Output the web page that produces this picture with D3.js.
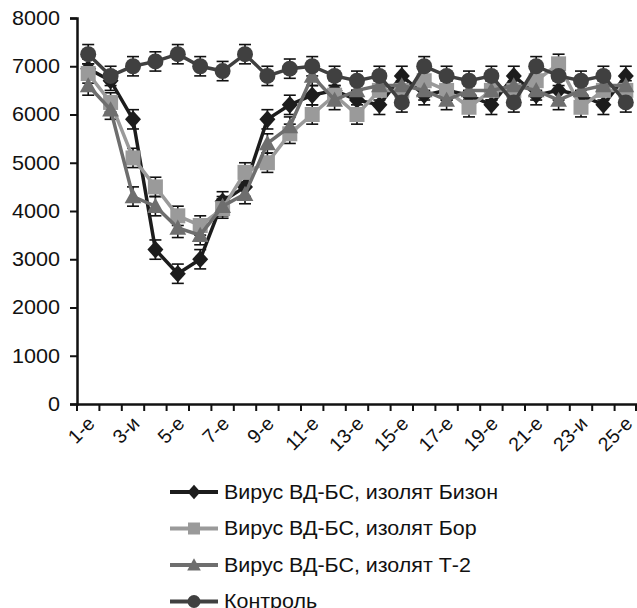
<!DOCTYPE html>
<html>
  <head>
    <meta charset="utf-8">
    <title>chart</title>
    <script src="https://d3js.org/d3.v7.min.js"></script>
    <style>
      body { margin: 0; background: #fff; }
      text { font-family: "Liberation Sans", Arial, sans-serif; fill: #111; }
    </style>
  </head>
  <body>
    <div id="wrapper"></div>
    <script>
      // categories (days) and the labels shown under the axis
      var days = d3.range(1, 26);
      var dayLabels = {1:"1-е", 3:"3-и", 5:"5-е", 7:"7-е", 9:"9-е", 11:"11-е", 13:"13-е",
                       15:"15-е", 17:"17-е", 19:"19-е", 21:"21-е", 23:"23-и", 25:"25-е"};
      var yTicks = [0, 1000, 2000, 3000, 4000, 5000, 6000, 7000, 8000];

      // values
      var bizon   = [6950, 6700, 5900, 3200, 2700, 3000, 4200, 4500, 5900, 6200, 6400, 6500, 6300,
                     6200, 6800, 6400, 6500, 6400, 6200, 6800, 6400, 6500, 6400, 6200, 6800];
      var bor     = [6850, 6250, 5100, 4500, 3900, 3700, 4050, 4800, 5000, 5600, 6000, 6400, 6000,
                     6500, 6500, 6700, 6500, 6150, 6500, 6500, 6700, 7050, 6150, 6500, 6500];
      var t2      = [6600, 6100, 4300, 4100, 3650, 3500, 4100, 4350, 5400, 5750, 6800, 6300, 6500,
                     6600, 6600, 6500, 6300, 6500, 6500, 6600, 6500, 6300, 6500, 6600, 6600];
      var control = [7250, 6800, 7000, 7100, 7250, 7000, 6900, 7250, 6800, 6950, 7000, 6800, 6700,
                     6800, 6250, 7000, 6800, 6700, 6800, 6250, 7000, 6800, 6700, 6800, 6250];
      var errValue = 200;

      var series = [
        {name: "Вирус ВД-БС, изолят Бизон", values: bizon,   color: "#1c1c1c", marker: "diamond"},
        {name: "Вирус ВД-БС, изолят Бор",   values: bor,     color: "#9a9a9a", marker: "square"},
        {name: "Вирус ВД-БС, изолят Т-2",   values: t2,      color: "#6e6e6e", marker: "triangle"},
        {name: "Контроль",                  values: control, color: "#404040", marker: "circle"}
      ];

      var width = 637, height = 608;
      var svg = d3.select("#wrapper").append("svg")
                  .attr("width", width)
                  .attr("height", height);

      var xScale = d3.scaleBand().domain(days).range([77, 637]).padding(0);
      var yScale = d3.scaleLinear().domain([0, 8000]).range([404, 18]);
      function cx(d) { return xScale(d) + xScale.bandwidth() / 2; }

      function markerPath(type, s) {
        if (type == "diamond") return "M0," + (-s*1.1) + "L" + s + ",0L0," + (s*1.1) + "L" + (-s) + ",0Z";
        if (type == "square") return "M" + (-s) + "," + (-s) + "H" + s + "V" + s + "H" + (-s) + "Z";
        if (type == "triangle") return "M0," + (-s*1.05) + "L" + (s*1.05) + "," + (s*0.85) + "L" + (-s*1.05) + "," + (s*0.85) + "Z";
        return d3.arc()({innerRadius: 0, outerRadius: s, startAngle: 0, endAngle: 2*Math.PI});
      }

      // y axis
      var yAxis = d3.axisLeft(yScale).tickValues(yTicks).tickSize(7).tickPadding(9)
                    .tickFormat(d3.format("d"));
      var gy = svg.append("g").attr("transform", "translate(77,0)").call(yAxis);
      gy.select(".domain").attr("stroke", "#111").attr("stroke-width", 2.5);
      gy.selectAll(".tick line").attr("stroke", "#111").attr("stroke-width", 2);
      gy.selectAll(".tick text").style("font-size", "20px").attr("fill", "#111")
        .attr("transform", "translate(-1,0) scale(1.08,1)")
        .attr("transform-origin", "-16 0");

      // x axis: ticks between categories, labels on odd days
      var xAxis = d3.axisBottom(xScale).tickSize(0).tickPadding(0)
                    .tickFormat(function(d) { return dayLabels[d] || ""; });
      var gx = svg.append("g").attr("transform", "translate(0,404)").call(xAxis);
      gx.select(".domain").attr("stroke", "#111").attr("stroke-width", 2.5);
      gx.selectAll(".tick text")
        .style("font-size", "19.5px")
        .attr("fill", "#111")
        .attr("text-anchor", "end")
        .attr("transform", "translate(3,16) rotate(-45)")
        .attr("dy", "0.35em");

      var bounds = days.map(function(d) { return xScale(d); }).concat([xScale.range()[1] - 1]);
      svg.append("g").selectAll("line").data(bounds).enter().append("line")
         .attr("x1", function(d) { return d; }).attr("x2", function(d) { return d; })
         .attr("y1", 404).attr("y2", 411)
         .attr("stroke", "#111").attr("stroke-width", 2);

      var line = d3.line()
                   .x(function(d, i) { return cx(days[i]); })
                   .y(function(d) { return yScale(d); });

      // error bars
      series.forEach(function(s) {
        var g = svg.append("g").attr("stroke", "#111").attr("stroke-width", 1.6);
        s.values.forEach(function(v, i) {
          var x = cx(days[i]);
          var y1 = yScale(v + errValue), y2 = yScale(v - errValue);
          g.append("line").attr("x1", x).attr("x2", x).attr("y1", y1).attr("y2", y2);
          g.append("line").attr("x1", x - 6).attr("x2", x + 6).attr("y1", y1).attr("y2", y1);
          g.append("line").attr("x1", x - 6).attr("x2", x + 6).attr("y1", y2).attr("y2", y2);
        });
      });

      // lines and markers
      series.forEach(function(s) {
        svg.append("path").datum(s.values)
           .attr("d", line)
           .attr("fill", "none")
           .attr("stroke", s.color)
           .attr("stroke-width", 3.5);
        svg.append("g").selectAll("path").data(s.values).enter().append("path")
           .attr("d", markerPath(s.marker, s.marker == "square" ? 7.5 : 8))
           .attr("transform", function(d, i) { return "translate(" + cx(days[i]) + "," + yScale(d) + ")"; })
           .attr("fill", s.color);
      });

      // legend
      var legend = svg.append("g").selectAll("g").data(series).enter().append("g")
                      .attr("transform", function(d, i) { return "translate(170," + (492 + i*36.5) + ")"; });
      legend.append("line").attr("x1", 0).attr("x2", 48).attr("y1", 0).attr("y2", 0)
            .attr("stroke", function(d) { return d.color; }).attr("stroke-width", 4);
      legend.append("path")
            .attr("d", function(d) { return markerPath(d.marker, d.marker == "square" ? 6 : 6.5); })
            .attr("transform", "translate(24,0)")
            .attr("fill", function(d) { return d.color; });
      legend.append("text").attr("x", 0).attr("y", 0).attr("dy", "0.35em")
            .attr("transform", "translate(54,0) scale(1.1,1)")
            .style("font-size", "19.5px")
            .text(function(d) { return d.name; });
    </script>
  </body>
</html>
